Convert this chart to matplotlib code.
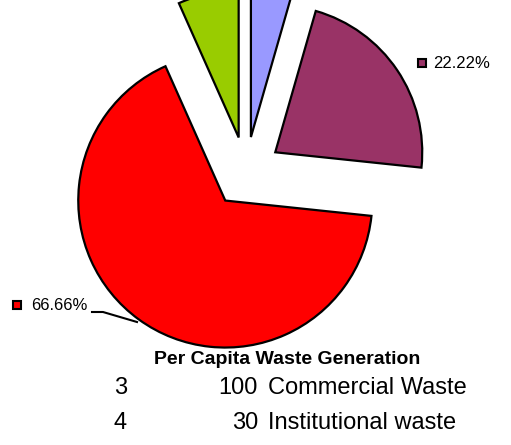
import numpy as np
from matplotlib import pyplot as plt

# slice values (blue, green, red, purple), counter-clockwise from start angle
values = [20, 30, 300, 100]
colors = ['#9999FF', '#99CC00', '#FF0000', '#993366']
pct_labels = {2: '66.66%', 3: '22.22%'}

title = 'Per Capita Waste Generation'
row_index = [3, 4]
row_values = [100, 30]
row_names = ['Commercial Waste', 'Institutional waste']

W, H = 511, 445
CX, CY, R = 246, 172, 147  # pie centre / radius in pixels


def to_data(px, py):
    return (px - CX) / R, (CY - py) / R


plt.rcParams['font.family'] = ['Liberation Sans', 'DejaVu Sans']
fig = plt.figure(figsize=(W / 100, H / 100), dpi=100)
ax = fig.add_axes([0, 0, 1, 1])

wedges, _ = ax.pie(values, colors=colors, startangle=74, counterclock=True,
                   explode=[0.24] * len(values), radius=1,
                   wedgeprops=dict(edgecolor='black', linewidth=1.6))
ax.set_aspect('auto')
ax.set_xlim(-CX / R, (W - CX) / R)
ax.set_ylim(-(H - CY) / R, CY / R)
ax.axis('off')

# percentage labels
x0, y0 = to_data(422, 63)
ax.plot(x0, y0, marker='s', ms=6, mfc=colors[3], mec='black', mew=1.5)
ax.text(to_data(433, 0)[0], y0, pct_labels[3], fontsize=12, va='center', ha='left')

x1, y1 = to_data(17, 305)
ax.plot(x1, y1, marker='s', ms=6, mfc=colors[2], mec='black', mew=1.5)
ax.text(to_data(31, 0)[0], y1, pct_labels[2], fontsize=12, va='center', ha='left')
lx, ly = zip(to_data(92, 312), to_data(103, 312), to_data(137, 322))
ax.plot(lx, ly, color='black', lw=1.5)

# title and table below
fig.text(287 / W, 1 - 359 / H, title, fontsize=14, fontweight='bold',
         ha='center', va='center')
for i, (idx, val, name) in enumerate(zip(row_index, row_values, row_names)):
    y = 1 - (388 + 35 * i) / H
    fig.text(114 / W, y, str(idx), fontsize=17, ha='left', va='center')
    fig.text(258 / W, y, str(val), fontsize=17, ha='right', va='center')
    fig.text(268 / W, y, name, fontsize=17, ha='left', va='center')

fig.savefig('out.png', dpi=100)
